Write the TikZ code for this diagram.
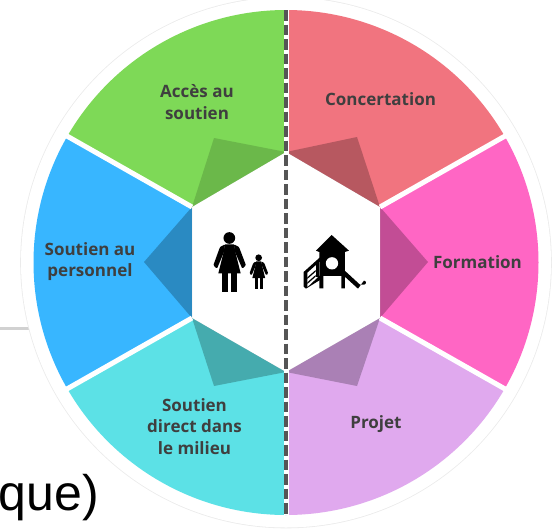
\documentclass[tikz,border=0pt]{standalone}
\usepackage{fontspec}
\setmainfont{Open Sans}
\newfontfamily\arialfont{Liberation Sans}
\definecolor{cGreen}{HTML}{7ED957}
\definecolor{cRed}{HTML}{F1747F}
\definecolor{cPink}{HTML}{FF66C4}
\definecolor{cPurple}{HTML}{E0A9EE}
\definecolor{cTeal}{HTML}{5CE1E6}
\definecolor{cBlue}{HTML}{38B6FF}
\definecolor{cText}{HTML}{3F3F3F}
\definecolor{cDash}{HTML}{555555}
\tikzset{
  seclabel/.style={font=\fontsize{17}{21.5}\selectfont\bfseries, text=cText, align=center, inner sep=0pt},
  sep/.style={draw=white, line width=5pt},
  shade/.style={fill=black, fill opacity=.24, draw=none},
  shadelight/.style={fill=black, fill opacity=.15, draw=none},
  icon/.style={fill=black, draw=none},
  pics/person/.style={code={
    \fill[black] (298,354) circle (17.5);
    \fill[black] (285,373) -- (312,373) -- (317,400) -- (332,460) -- (265,460) -- (280,400) -- cycle;
    \fill[black, rounded corners=1pt] (285,373) -- (270,381) -- (250,436) -- (261,446) -- (282,396) -- cycle;
    \fill[black, rounded corners=1pt] (312,373) -- (327,381) -- (348,436) -- (337,446) -- (315,396) -- cycle;
    \fill[black] (277,455) rectangle (295,517);
    \fill[black] (303,455) rectangle (321,517);
  }}
}
\begin{document}
\begin{tikzpicture}[x=1pt,y=-1pt]
\useasboundingbox (0,0) rectangle (556,530);
\begin{scope}
\clip (0,0) rectangle (556,530);
\draw[draw=black!18, line width=3pt] (0,328) -- (60,328);
\node[anchor=base east, inner sep=0pt, font=\arialfont\fontsize{50}{50}\selectfont] (tail) at (99,510) {que)};
\coordinate (c) at (286,262.5);
\fill[black!8] (c) circle (265.8);
\fill[white] (c) circle (265);
% sectors
\begin{scope}[shift={(c)}]
\fill[cRed]    (0,0) -- (0,-252.5) arc[start angle=-90,end angle=-30,radius=252.5] -- cycle;
\fill[cPink]   (0,0) -- (-30:252.5) arc[start angle=-30,end angle=30,radius=252.5] -- cycle;
\fill[cPurple] (0,0) -- (30:252.5) arc[start angle=30,end angle=90,radius=252.5] -- cycle;
\fill[cTeal]   (0,0) -- (90:252.5) arc[start angle=90,end angle=150,radius=252.5] -- cycle;
\fill[cBlue]   (0,0) -- (150:252.5) arc[start angle=150,end angle=210,radius=252.5] -- cycle;
\fill[cGreen]  (0,0) -- (210:252.5) arc[start angle=210,end angle=270,radius=252.5] -- cycle;
\coordinate (rUR) at (-30:253);
\coordinate (rLR) at (30:253);
\coordinate (rLL) at (150:253);
\coordinate (rUL) at (210:253);
\end{scope}
% hexagon
\coordinate (hT) at (286,152);
\coordinate (hUR) at (380,207);
\coordinate (hLR) at (380,318);
\coordinate (hB) at (286,372);
\coordinate (hLL) at (192,318);
\coordinate (hUL) at (192,207);
\fill[white] (hT) -- (hUR) -- (hLR) -- (hB) -- (hLL) -- (hUL) -- cycle;
% darker kites
\fill[shadelight] (hT) -- (214,138) -- (hUL) -- cycle;
\fill[shade] (hT) -- (357,137) -- (hUR) -- cycle;
\fill[shade] (hUR) -- (428,262) -- (hLR) -- cycle;
\fill[shade] (hUL) -- (144,262) -- (hLL) -- cycle;
\fill[shade] (hLL) -- (214,386) -- (hB) -- cycle;
\fill[shade] (hLR) -- (357,386) -- (hB) -- cycle;
% separators
\draw[sep] (hUR) -- (rUR);
\draw[sep] (hLR) -- (rLR);
\draw[sep] (hLL) -- (rLL);
\draw[sep] (hUL) -- (rUL);
\draw[draw=white, line width=5pt] (286,10) -- (286,515);
\draw[draw=cDash, line width=3.6pt, dash pattern=on 10.5pt off 4pt] (286,10) -- (286,515);
% labels
\node[seclabel] (acces) at (197,102) {Accès au\\soutien};
\node[seclabel] (conc) at (380.5,99) {Concertation};
\node[seclabel] (form) at (477.5,262.5) {Formation};
\node[seclabel] (proj) at (376,424.5) {Projet};
\node[seclabel] (dir) at (194.5,426.5) {Soutien\\direct dans\\le milieu};
\node[seclabel] (pers) at (90,261.5) {Soutien au\\personnel};
% icons (coordinates of a 3x crop at 130,120)
\begin{scope}[shift={(130,120)}, x=0.3333pt, y=-0.3333pt]
\pic {person};
\begin{scope}[shift={(386,507)}, scale=.575, shift={(-298,-517)}]
\pic[transform shape] {person};
\end{scope}
% playhouse
\fill[icon] (605,345) -- (657,392) -- (645,396) -- (645,468) -- (645,505) -- (634,505) -- (634,468) -- (580,468) -- (580,505) -- (568,505) -- (568,396) -- (558,392) -- cycle;
\fill[white] (606,430) circle (18.5);
\fill[icon] (640,448) -- (690,494) -- (702,494) arc[start angle=90,end angle=-90,radius=6] -- (684,506) -- (640,466) -- cycle;
\fill[icon] (521,456) -- (570,412) -- (570,424) -- (532,458) -- (532,502) -- (570,466) -- (570,480) -- (528,506) -- (521,500) -- cycle;
\fill[icon] (557,424) rectangle (566,470);
\fill[icon] (532,472) -- (557,450) -- (557,455) -- (532,477) -- cycle;
\fill[icon] (532,487) -- (557,465) -- (557,470) -- (532,492) -- cycle;
\end{scope}
\end{scope}
\end{tikzpicture}
\end{document}
